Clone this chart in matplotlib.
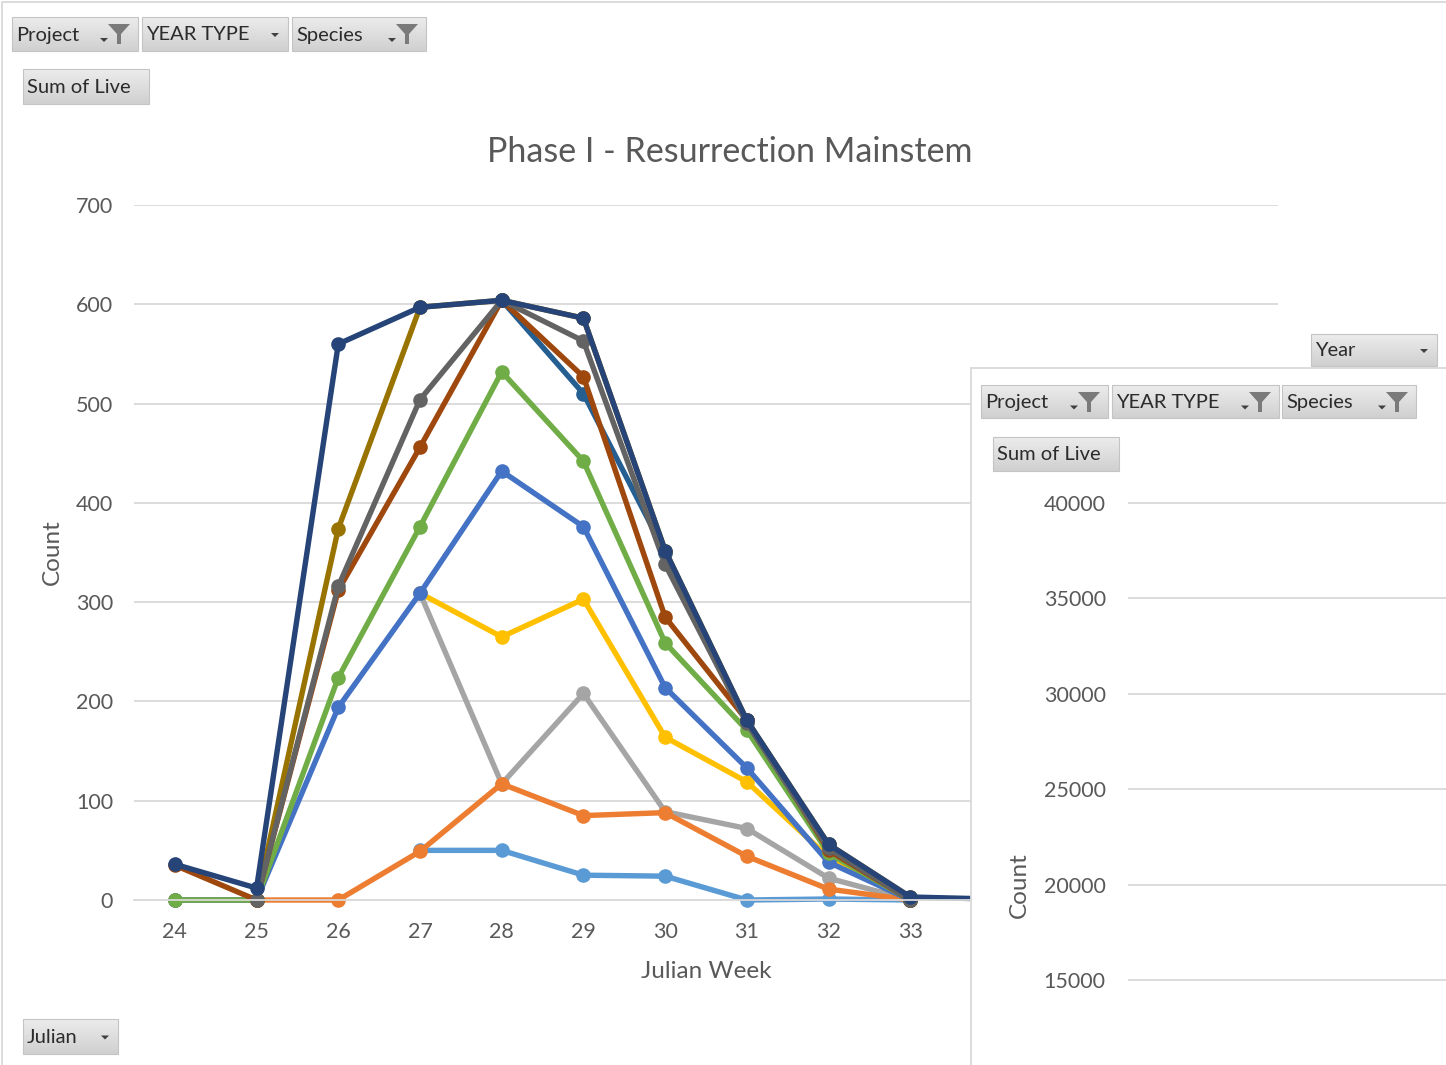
import numpy as np
import matplotlib
matplotlib.use('Agg')
import matplotlib.pyplot as plt
from matplotlib.patches import Rectangle, Polygon
from matplotlib.colors import LinearSegmentedColormap

plt.rcParams['font.family'] = ['Lato', 'DejaVu Sans']

# data
weeks = [24, 25, 26, 27, 28, 29, 30, 31, 32, 33, 34]
nan = np.nan
s_blue      = [0, 0, 194, 309, 432, 376, 214, 133, 38, 0, nan]
s_orange    = [0, 0, 0, 49, 117, 85, 88, 44, 11, 0, nan]
s_gray      = [nan, nan, nan, 309, 117, 208, 89, 72, 22, 0, nan]
s_gold      = [nan, nan, nan, 309, 265, 303, 164, 119, 43, 0, nan]
s_ltblue    = [nan, nan, nan, 50, 50, 25, 24, 0, 1, 0, nan]
s_green     = [0, 0, 224, 376, 532, 442, 259, 171, 47, 0, nan]
s_steel     = [nan, nan, nan, nan, 604, 510, 350, 180, 55, 0, nan]
s_dkorange  = [35, 0, 312, 456, 604, 527, 285, 181, 50, 0, nan]
s_dkgray    = [nan, 0, 316, 504, 604, 563, 338, 178, 52, 0, nan]
s_dkgold    = [nan, 0, 374, 597, 604, 586, 352, 181, 56, 3, nan]
s_navy      = [36, 12, 560, 597, 604, 586, 352, 181, 56, 3, 1]

series = [
    (s_gold, '#FFC000'), (s_gray, '#A5A5A5'), (s_ltblue, '#5B9BD5'),
    (s_orange, '#ED7D31'), (s_blue, '#4472C4'), (s_green, '#70AD47'),
    (s_steel, '#255E91'), (s_dkgold, '#997300'), (s_dkorange, '#9E480E'),
    (s_dkgray, '#636363'), (s_navy, '#264478'),
]

W, H = 1446, 1065
fig = plt.figure(figsize=(W / 100, H / 100), dpi=100)
fig.patch.set_facecolor('white')

def fx(x):
    return x / W

def fy(y):
    return 1 - y / H

tick_col = '#595959'
grid_col = '#d9d9d9'

# main chart
ax = fig.add_axes([fx(134), fy(900), (1278 - 134) / W, (900 - 205) / H])
for vals, col in series:
    ax.plot(weeks, vals, color=col, lw=3.9, marker='o', ms=9.5,
            clip_on=False, solid_capstyle='round', solid_joinstyle='round')
ax.set_xlim(23.5, 37.5)
ax.set_ylim(0, 700)
ax.set_yticks(range(0, 701, 100))
ax.set_xticks(range(24, 38))
ax.yaxis.grid(True, color=grid_col, lw=1.3)
ax.set_axisbelow(True)
for sp in ['top', 'right', 'left']:
    ax.spines[sp].set_visible(False)
ax.spines['bottom'].set_color(grid_col)
ax.spines['bottom'].set_linewidth(1.3)
ax.tick_params(axis='both', length=0, labelsize=15.5, labelcolor=tick_col)
ax.tick_params(axis='x', pad=16)
ax.tick_params(axis='y', pad=15)
ax.set_xlabel('Julian Week', fontsize=17.5, color=tick_col)
ax.set_ylabel('Count', fontsize=17.5, color=tick_col)
ax.xaxis.set_label_coords(0.5, -0.088)
ax.yaxis.set_label_coords(-0.062, 0.5)
fig.text(fx(730), fy(152), 'Phase I - Resurrection Mainstem', ha='center',
         va='center', fontsize=24.5, color=tick_col)

# second chart lying over the first
panel = fig.add_axes([fx(971), 0, (W - 971) / W, (H - 368) / H])
panel.set_facecolor('white')
panel.set_xticks([])
panel.set_yticks([])
for sp in ['bottom', 'right']:
    panel.spines[sp].set_visible(False)
for sp in ['left', 'top']:
    panel.spines[sp].set_color(grid_col)
    panel.spines[sp].set_linewidth(1.3)

ax2 = fig.add_axes([fx(1128), 0, (W - 1128) / W, (H - 480) / H])
ax2.patch.set_alpha(0)
ax2.set_ylim(10545, 41206)
ax2.set_yticks(range(15000, 40001, 5000))
ax2.set_xticks([])
ax2.yaxis.grid(True, color=grid_col, lw=1.3)
for sp in ax2.spines.values():
    sp.set_visible(False)
ax2.tick_params(axis='y', length=0, labelsize=15.5, labelcolor=tick_col, pad=16)
ax2.set_ylabel('Count', fontsize=17.5, color=tick_col)
ax2.yaxis.set_label_coords(-0.31, 0.3077)

# pivot field buttons
ui = fig.add_axes([0, 0, 1, 1])
ui.axis('off')
grad = LinearSegmentedColormap.from_list('btn', ['#ececec', '#d0d0d0'])
g = np.linspace(0, 1, 50).reshape(-1, 1)

def arrow(x, y):
    ui.add_patch(Polygon([(x, y), (x + 8, y), (x + 4, y + 4)], closed=True,
                         color='#404040', lw=0))

def funnel(x, y):
    ui.add_patch(Polygon([(x, y), (x + 22, y), (x + 13, y + 10),
                          (x + 13, y + 20), (x + 9, y + 20), (x + 9, y + 10)],
                         closed=True, color='#7a7a7a', lw=0))

def button(x0, x1, y0, y1, label, kind=None):
    ui.imshow(g, cmap=grad, extent=(x0, x1, y1, y0), aspect='auto',
              origin='upper', zorder=1)
    ui.add_patch(Rectangle((x0, y0), x1 - x0, y1 - y0, fill=False,
                           ec='#c4c4c4', lw=0.8, zorder=2))
    ui.text(x0 + 4, (y0 + y1) / 2 + 1, label, fontsize=14.5, color='#2b2b2b',
            va='center', ha='left', zorder=3)
    if kind == 'arrow':
        arrow(x1 - 17, (y0 + y1) / 2 - 1)
    elif kind == 'filter':
        arrow(x1 - 38, (y0 + y1) / 2 + 4)
        funnel(x1 - 30, y0 + 7)

button(12, 138, 17, 51, 'Project', 'filter')
button(142, 288, 17, 51, 'YEAR TYPE', 'arrow')
button(292, 426, 17, 51, 'Species', 'filter')
button(23, 149, 69, 104, 'Sum of Live')
button(1311, 1437, 334, 366, 'Year', 'arrow')
button(23, 118, 1019, 1054, 'Julian', 'arrow')
button(981, 1108, 385, 418, 'Project', 'filter')
button(1112, 1279, 385, 418, 'YEAR TYPE', 'filter')
button(1282, 1416, 385, 418, 'Species', 'filter')
button(993, 1119, 437, 471, 'Sum of Live')

# outer chart border
ui.plot([2, 2, W], [H, 2, 2], color=grid_col, lw=1.3)

ui.set_xlim(0, W)
ui.set_ylim(H, 0)

fig.savefig('out.png', dpi=100)
